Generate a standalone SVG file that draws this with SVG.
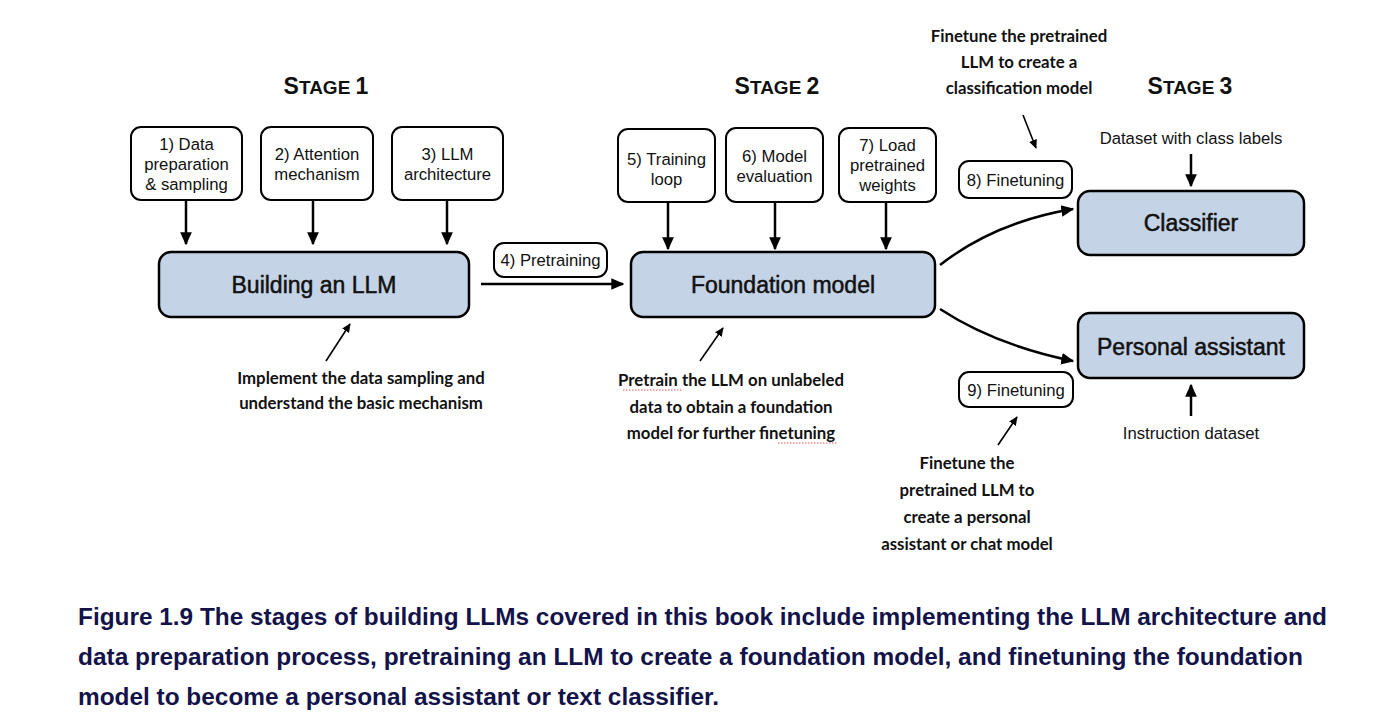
<svg xmlns="http://www.w3.org/2000/svg" width="1398" height="726" viewBox="0 0 1398 726">
<defs>
<marker id="ah" viewBox="0 0 10 10" refX="9" refY="5" markerWidth="13" markerHeight="13" markerUnits="userSpaceOnUse" orient="auto">
<path d="M0,0.5 L10,5 L0,9.5 z" fill="#000"/>
</marker>
<marker id="ahs" viewBox="0 0 10 10" refX="9" refY="5" markerWidth="9" markerHeight="9" markerUnits="userSpaceOnUse" orient="auto">
<path d="M0,0.5 L10,5 L0,9.5 z" fill="#000"/>
</marker>
</defs>
<style>
.sbox{fill:#fff;stroke:#000;stroke-width:2}
.mbox{fill:#c5d3e6;stroke:#000;stroke-width:2.5}
.t{font-family:"Liberation Sans",Arial,sans-serif;font-size:16.7px;fill:#111;text-anchor:middle}
.tm{font-family:"Liberation Sans",Arial,sans-serif;font-size:23px;fill:#111;stroke:#111;stroke-width:0.5;text-anchor:middle}
.st{font-family:"Liberation Sans",Arial,sans-serif;font-weight:bold;fill:#111;text-anchor:middle}
.an{font-family:Lato,"Open Sans",sans-serif;font-weight:bold;font-size:16.8px;fill:#111;text-anchor:middle}
.cap{font-family:"Liberation Sans",Arial,sans-serif;font-weight:bold;font-size:23.5px;fill:#13134a}
.c{fill:none;stroke:#000;stroke-width:2.5}
.c2{fill:none;stroke:#000;stroke-width:1.6}
.sq{fill:none;stroke:#e05050;stroke-width:1;stroke-dasharray:1.5 1.5}
</style>

<g id="stage-labels">
<text class="st" x="326" y="94"><tspan font-size="23">S</tspan><tspan font-size="19">TAGE </tspan><tspan font-size="23">1</tspan></text>
<text class="st" x="777" y="94"><tspan font-size="23">S</tspan><tspan font-size="19">TAGE </tspan><tspan font-size="23">2</tspan></text>
<text class="st" x="1190" y="94"><tspan font-size="23">S</tspan><tspan font-size="19">TAGE </tspan><tspan font-size="23">3</tspan></text>
</g>

<g id="n1"><rect class="sbox" x="131" y="127" width="111" height="73" rx="10"/>
<text class="t" x="186.5" y="150">1) Data</text><text class="t" x="186.5" y="170">preparation</text><text class="t" x="186.5" y="190">&amp; sampling</text></g>
<g id="n2"><rect class="sbox" x="261" y="127" width="112" height="73" rx="10"/>
<text class="t" x="317" y="160">2) Attention</text><text class="t" x="317" y="180">mechanism</text></g>
<g id="n3"><rect class="sbox" x="392" y="127" width="111" height="73" rx="10"/>
<text class="t" x="447.5" y="160">3) LLM</text><text class="t" x="447.5" y="180">architecture</text></g>

<g id="building"><rect class="mbox" x="159" y="252" width="310" height="65" rx="12"/>
<text class="tm" x="314" y="293">Building an LLM</text></g>

<g id="pretraining"><rect class="sbox" x="494" y="243" width="113" height="34" rx="10"/>
<text class="t" x="550.5" y="266">4) Pretraining</text></g>

<g id="foundation"><rect class="mbox" x="631" y="252" width="304" height="65" rx="12"/>
<text class="tm" x="783" y="293">Foundation model</text></g>

<g id="n5"><rect class="sbox" x="618" y="129" width="97" height="73" rx="10"/>
<text class="t" x="666.5" y="165">5) Training</text><text class="t" x="666.5" y="185">loop</text></g>
<g id="n6"><rect class="sbox" x="726" y="128" width="97" height="74" rx="10"/>
<text class="t" x="774.5" y="162">6) Model</text><text class="t" x="774.5" y="182">evaluation</text></g>
<g id="n7"><rect class="sbox" x="839" y="128" width="97" height="74" rx="10"/>
<text class="t" x="887.5" y="151">7) Load</text><text class="t" x="887.5" y="171">pretrained</text><text class="t" x="887.5" y="191">weights</text></g>

<g id="ft8"><rect class="sbox" x="959" y="161" width="113" height="37" rx="10"/>
<text class="t" x="1015.5" y="186">8) Finetuning</text></g>
<g id="ft9"><rect class="sbox" x="959" y="372" width="114" height="35" rx="10"/>
<text class="t" x="1016" y="396">9) Finetuning</text></g>

<g id="classifier"><rect class="mbox" x="1078" y="191" width="226" height="64" rx="12"/>
<text class="tm" x="1191" y="231">Classifier</text></g>
<g id="assistant"><rect class="mbox" x="1078" y="313" width="226" height="65" rx="12"/>
<text class="tm" x="1191" y="355">Personal assistant</text></g>

<g id="labels">
<text class="t" x="1191" y="144">Dataset with class labels</text>
<text class="t" x="1191" y="439">Instruction dataset</text>
<text class="an" x="1019" y="42">Finetune the pretrained</text>
<text class="an" x="1019" y="68">LLM to create a</text>
<text class="an" x="1019" y="94">classification model</text>
<text class="an" x="361" y="384">Implement the data sampling and</text>
<text class="an" x="361" y="409">understand the basic mechanism</text>
<text class="an" x="731" y="386">Pretrain the LLM on unlabeled</text>
<text class="an" x="731" y="413">data to obtain a foundation</text>
<text class="an" x="731" y="439">model for further finetuning</text>
<path class="sq" d="M623,390 H683 M778,443 H838"/>
<text class="an" x="967" y="469">Finetune the</text>
<text class="an" x="967" y="496">pretrained LLM to</text>
<text class="an" x="967" y="523">create a personal</text>
<text class="an" x="967" y="550">assistant or chat model</text>
</g>

<g id="connectors">
<line class="c" x1="186" y1="201" x2="186" y2="244" marker-end="url(#ah)"/>
<line class="c" x1="313" y1="201" x2="313" y2="244" marker-end="url(#ah)"/>
<line class="c" x1="447" y1="201" x2="447" y2="244" marker-end="url(#ah)"/>
<line class="c" x1="668" y1="203" x2="668" y2="249" marker-end="url(#ah)"/>
<line class="c" x1="775" y1="203" x2="775" y2="249" marker-end="url(#ah)"/>
<line class="c" x1="886" y1="203" x2="886" y2="249" marker-end="url(#ah)"/>
<line class="c" x1="481" y1="284" x2="623" y2="284" marker-end="url(#ah)"/>
<path class="c" d="M940,265 Q995,222 1073,209" marker-end="url(#ah)"/>
<path class="c" d="M940,309 Q995,345 1073,361" marker-end="url(#ah)"/>
<line class="c" x1="1191" y1="154" x2="1191" y2="186" marker-end="url(#ah)"/>
<line class="c" x1="1191" y1="416" x2="1191" y2="385" marker-end="url(#ah)"/>
<line class="c2" x1="1023" y1="115" x2="1036" y2="148" marker-end="url(#ahs)"/>
<line class="c2" x1="326" y1="361" x2="350" y2="324" marker-end="url(#ahs)"/>
<line class="c2" x1="700" y1="361" x2="723" y2="328" marker-end="url(#ahs)"/>
<line class="c2" x1="998" y1="445" x2="1017" y2="417" marker-end="url(#ahs)"/>
</g>

<g id="caption">
<text class="cap" x="78" y="625" textLength="1249" lengthAdjust="spacingAndGlyphs">Figure 1.9 The stages of building LLMs covered in this book include implementing the LLM architecture and</text>
<text class="cap" x="78" y="665" textLength="1225" lengthAdjust="spacingAndGlyphs">data preparation process, pretraining an LLM to create a foundation model, and finetuning the foundation</text>
<text class="cap" x="78" y="705" textLength="641" lengthAdjust="spacingAndGlyphs">model to become a personal assistant or text classifier.</text>
</g>
</svg>
